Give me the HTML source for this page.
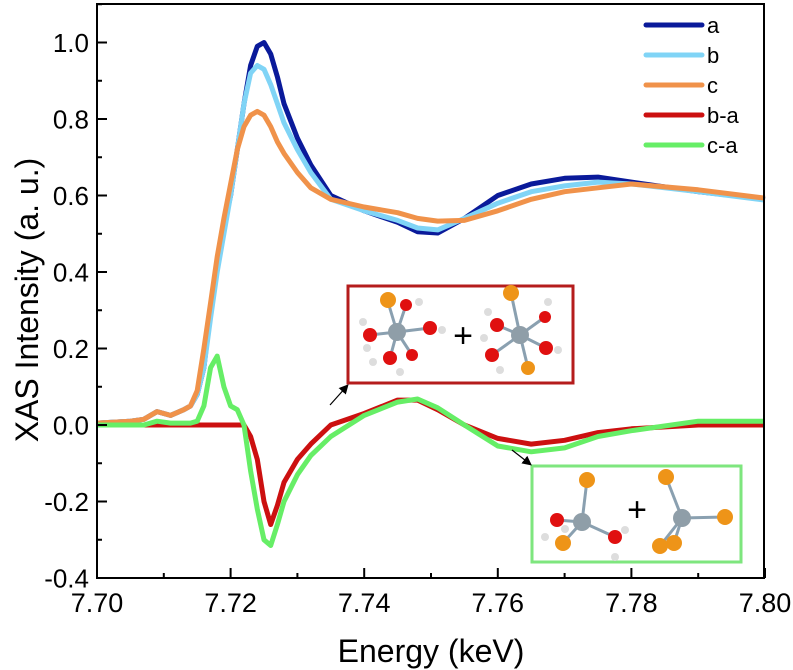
<!DOCTYPE html>
<html><head><meta charset="utf-8"><style>
html,body{margin:0;padding:0;background:#fff}
svg{display:block;font-family:"Liberation Sans",Arial,sans-serif}
</style></head><body>
<svg id="chart" width="793" height="670" viewBox="0 0 793 670" xmlns="http://www.w3.org/2000/svg">
<g id="series"></g>
<g id="axes"></g>
<rect x="97" y="4" width="667" height="574" fill="none" stroke="#000" stroke-width="2"/>
<g font-size="22">
 <line x1="646" y1="25" x2="702" y2="25" stroke="#0a1a9a" stroke-width="5" stroke-linecap="round"/>
 <text x="707" y="33">a</text>
 <line x1="646" y1="55" x2="702" y2="55" stroke="#80d4f6" stroke-width="5" stroke-linecap="round"/>
 <text x="707" y="63">b</text>
 <line x1="646" y1="85" x2="702" y2="85" stroke="#f0924a" stroke-width="5" stroke-linecap="round"/>
 <text x="707" y="93">c</text>
 <line x1="646" y1="115" x2="702" y2="115" stroke="#cc1010" stroke-width="5" stroke-linecap="round"/>
 <text x="707" y="123">b-a</text>
 <line x1="646" y1="145" x2="702" y2="145" stroke="#66ee66" stroke-width="5" stroke-linecap="round"/>
 <text x="707" y="153">c-a</text>
</g>
<g>
 <rect x="348" y="286" width="225" height="97" fill="#fff" stroke="#b51c1c" stroke-width="3"/>
 <g stroke="#8aa0b0" stroke-width="3">
  <line x1="397" y1="332" x2="388" y2="302"/><line x1="397" y1="332" x2="370" y2="335"/><line x1="397" y1="332" x2="430" y2="328"/>
  <line x1="397" y1="332" x2="390" y2="358"/><line x1="397" y1="332" x2="412" y2="355"/><line x1="397" y1="332" x2="406" y2="305"/>
  <line x1="520" y1="335" x2="511" y2="293"/><line x1="520" y1="335" x2="528" y2="368"/><line x1="520" y1="335" x2="497" y2="325"/>
  <line x1="520" y1="335" x2="492" y2="355"/><line x1="520" y1="335" x2="545" y2="317"/><line x1="520" y1="335" x2="546" y2="348"/>
 </g>
 <circle cx="388" cy="300" r="8" fill="#ee9418"/>
 <circle cx="406" cy="305" r="6" fill="#e01010"/><circle cx="370" cy="335" r="7" fill="#e01010"/>
 <circle cx="430" cy="328" r="7" fill="#e01010"/><circle cx="390" cy="358" r="7" fill="#e01010"/><circle cx="412" cy="355" r="6" fill="#e01010"/>
 <circle cx="397" cy="332" r="9" fill="#8f9ea8"/>
 <circle cx="511" cy="293" r="8" fill="#ee9418"/><circle cx="528" cy="368" r="7" fill="#ee9418"/>
 <circle cx="497" cy="325" r="7" fill="#e01010"/><circle cx="492" cy="355" r="7" fill="#e01010"/>
 <circle cx="545" cy="317" r="6" fill="#e01010"/><circle cx="546" cy="348" r="7" fill="#e01010"/>
 <circle cx="520" cy="335" r="9" fill="#8f9ea8"/>
 <g fill="#ddd"><circle cx="419" cy="302" r="4"/><circle cx="363" cy="322" r="4"/><circle cx="367" cy="348" r="4"/><circle cx="442" cy="330" r="4"/><circle cx="373" cy="362" r="4"/><circle cx="400" cy="372" r="4"/><circle cx="488" cy="312" r="4"/><circle cx="484" cy="338" r="4"/><circle cx="548" cy="302" r="4"/><circle cx="558" cy="350" r="4"/><circle cx="500" cy="370" r="4"/></g>
 <text x="463" y="347" font-size="34" text-anchor="middle">+</text>
</g>
<g>
 <rect x="532" y="466" width="209" height="96" fill="#fff" stroke="#7ee67e" stroke-width="3"/>
 <g stroke="#8aa0b0" stroke-width="3">
  <line x1="582" y1="522" x2="587" y2="480"/><line x1="582" y1="522" x2="557" y2="520"/><line x1="582" y1="522" x2="563" y2="543"/><line x1="582" y1="522" x2="615" y2="537"/>
  <line x1="682" y1="518" x2="666" y2="477"/><line x1="682" y1="518" x2="725" y2="517"/><line x1="682" y1="518" x2="660" y2="546"/><line x1="682" y1="518" x2="674" y2="543"/>
 </g>
 <circle cx="587" cy="480" r="8" fill="#ee9418"/><circle cx="563" cy="543" r="8" fill="#ee9418"/>
 <circle cx="557" cy="520" r="7" fill="#e01010"/><circle cx="615" cy="537" r="7" fill="#e01010"/>
 <circle cx="582" cy="522" r="9" fill="#8f9ea8"/>
 <circle cx="666" cy="477" r="8" fill="#ee9418"/><circle cx="725" cy="517" r="8" fill="#ee9418"/><circle cx="674" cy="543" r="8" fill="#ee9418"/><circle cx="660" cy="546" r="8" fill="#ee9418"/>
 <circle cx="682" cy="518" r="9" fill="#8f9ea8"/>
 <g fill="#ddd"><circle cx="545" cy="537" r="4"/><circle cx="565" cy="529" r="4"/><circle cx="625" cy="530" r="4"/><circle cx="615" cy="557" r="4"/></g>
 <text x="637" y="521" font-size="34" text-anchor="middle">+</text>
</g>
<defs><marker id="ah" markerWidth="8" markerHeight="8" refX="6" refY="4" orient="auto"><path d="M0,0 L8,4 L0,8 z" fill="#000"/></marker></defs>
<line x1="330" y1="405" x2="347" y2="386" stroke="#000" stroke-width="1.2" marker-end="url(#ah)"/>
<line x1="512" y1="450" x2="530" y2="464" stroke="#000" stroke-width="1.2" marker-end="url(#ah)"/>
<text x="431" y="662" font-size="32" text-anchor="middle">Energy (keV)</text>
<text x="0" y="0" font-size="32" text-anchor="middle" transform="translate(38,300) rotate(-90)">XAS Intensity (a. u.)</text>
</svg>
<script>
const energy=[7.700,7.705,7.707,7.709,7.711,7.713,7.714,7.715,7.716,7.717,7.718,7.719,7.720,7.721,7.722,7.723,7.724,7.725,7.726,7.727,7.728,7.730,7.732,7.735,7.740,7.745,7.748,7.751,7.755,7.760,7.765,7.770,7.775,7.780,7.790,7.800];
const seriesA=[.005,.01,.015,.035,.025,.04,.05,.08,.15,.3,.42,.52,.6,.72,.84,.94,.99,1.0,.97,.91,.84,.75,.68,.6,.56,.53,.505,.502,.54,.6,.63,.645,.648,.635,.61,.59];
const seriesB=[.005,.01,.015,.035,.025,.04,.05,.08,.15,.28,.4,.5,.6,.72,.84,.92,.94,.93,.89,.84,.79,.72,.66,.59,.56,.535,.515,.51,.54,.58,.61,.625,.635,.63,.61,.588];
const seriesC=[.005,.01,.015,.035,.025,.04,.05,.09,.2,.32,.44,.54,.63,.72,.78,.81,.82,.81,.78,.74,.71,.66,.62,.59,.57,.555,.54,.533,.535,.56,.59,.61,.62,.63,.615,.593];
const seriesBA=[0,0,0,0,0,0,0,0,0,0,0,0,0,0,0,-.03,-.09,-.2,-.26,-.21,-.15,-.09,-.05,0,.03,.065,.065,.04,0,-.035,-.05,-.04,-.02,-.01,0,0];
const seriesCA=[0,0,0,.01,.005,.005,.005,.01,.05,.15,.18,.1,.05,.04,0,-.12,-.22,-.3,-.315,-.26,-.2,-.13,-.08,-.03,.025,.06,.068,.045,0,-.055,-.07,-.06,-.03,-.015,.01,.01];
const xTickLabels=["7.70","7.72","7.74","7.76","7.78","7.80"];
const yTickLabels=["-0.4","-0.2","0.0","0.2","0.4","0.6","0.8","1.0"];
const NS="http://www.w3.org/2000/svg";
function xs(e){return 97+(e-7.70)*6680;}
function ys(v){return 425-v*382.5;}
const sg=document.getElementById('series');
function draw(vals,color,w,name){
  const p=document.createElementNS(NS,'polyline');
  p.setAttribute('points',energy.map((e,i)=>xs(e).toFixed(1)+','+ys(vals[i]).toFixed(1)).join(' '));
  p.setAttribute('fill','none');p.setAttribute('stroke',color);p.setAttribute('stroke-width',w);
  p.setAttribute('stroke-linejoin','round');
  
  
  sg.appendChild(p);
}
draw(seriesA,'#0a1a9a',5,'line-a');
draw(seriesB,'#80d4f6',5,'line-b');
draw(seriesC,'#f0924a',5,'line-c');
draw(seriesBA,'#cc1010',5,'line-b-minus-a');
draw(seriesCA,'#66ee66',5,'line-c-minus-a');
const ax=document.getElementById('axes');
function mk(tag,attrs){const el=document.createElementNS(NS,tag);for(const k in attrs)el.setAttribute(k,attrs[k]);ax.appendChild(el);return el;}
xTickLabels.forEach((t,i)=>{
  const x=xs(parseFloat(t));
  const tk=mk('line',{x1:x,y1:578,x2:x,y2:568,stroke:'#000','stroke-width':2});
  
  
  if(i<xTickLabels.length-1){const m=xs(parseFloat(t)+0.01);const mt=mk('line',{x1:m,y1:578,x2:m,y2:573,stroke:'#000','stroke-width':2});
  
  }
  const tx=mk('text',{x:x,y:612,'font-size':27,'text-anchor':'middle'});tx.textContent=t;
  
  
});
yTickLabels.forEach((t,i)=>{
  const y=ys(parseFloat(t));
  const tk=mk('line',{x1:97,y1:y,x2:107,y2:y,stroke:'#000','stroke-width':2});
  
  
  const m=ys(parseFloat(t)+0.1);const mt=mk('line',{x1:97,y1:m,x2:102,y2:m,stroke:'#000','stroke-width':2});
  
  
  const tx=mk('text',{x:89,y:y+9.5,'font-size':26,'text-anchor':'end'});tx.textContent=t;
  
  
});
</script>
</body></html>
